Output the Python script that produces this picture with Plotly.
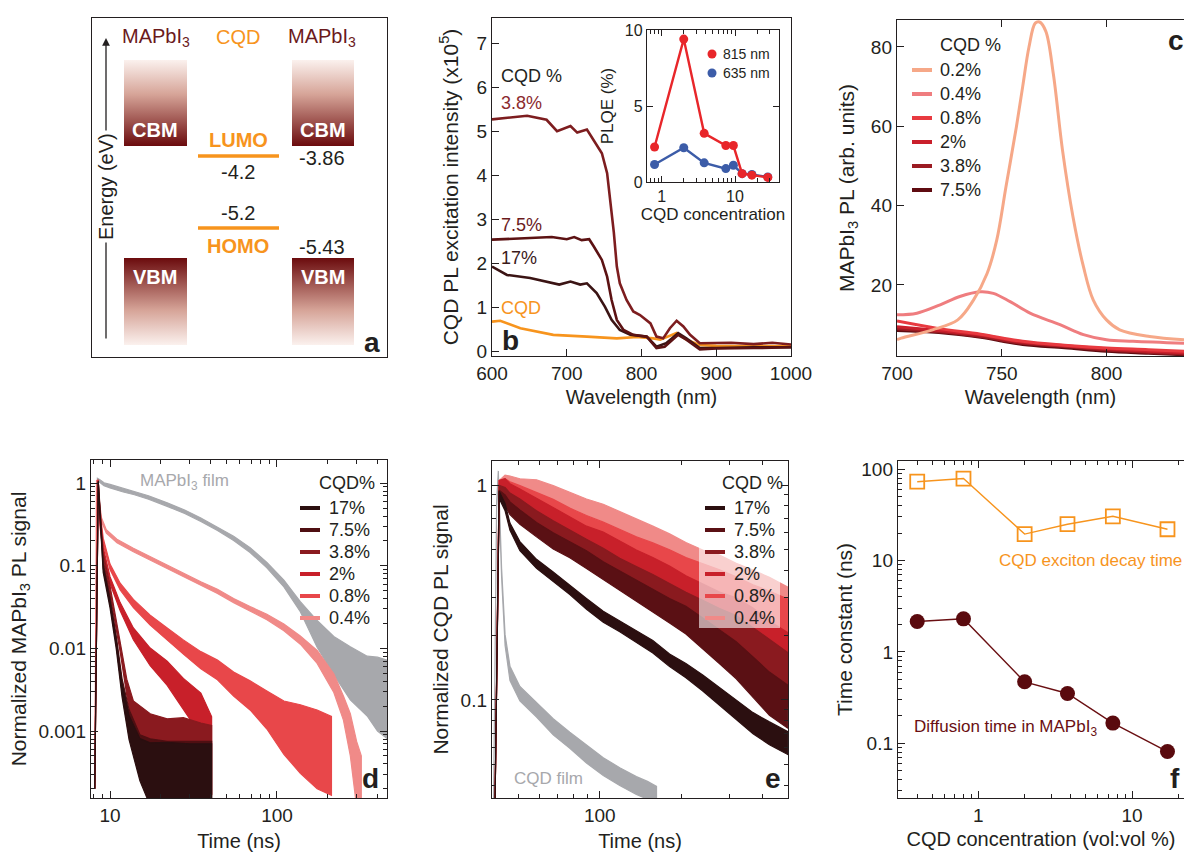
import plotly.graph_objects as go

W, H = 1184, 854
FONT = "Liberation Sans, Arial, Helvetica, sans-serif"
INK = "#231f20"
ORANGE = "#f7941d"
GRAY = "#a7a8ac"


def px(x):
    return x / W


def py(y):
    return 1 - y / H


# ---------------- data ----------------
# (a) energy levels (eV)
A_MAPI_BANDS = ["CBM", "VBM"]
A_MAPI_ENERGY = [-3.86, -5.43]
A_CQD_LEVELS = ["LUMO", "HOMO"]
A_CQD_ENERGY = [-4.2, -5.2]

# (b) CQD PL excitation intensity (x1e5) vs wavelength (nm)
B_WL_38 = [600, 620, 647, 673, 687, 705, 714, 727, 736, 747, 754, 758, 763, 767, 771, 780, 789, 798, 812, 820,
           829, 838, 847, 856, 865, 878, 896, 920, 950, 975, 1000]
B_PLE_38 = [5.27, 5.3, 5.35, 5.26, 5.0, 5.12, 4.97, 5.04, 4.8, 4.5, 4.05, 3.45, 2.7, 1.93, 1.55, 1.17, 0.91, 0.83,
            0.64, 0.34, 0.3, 0.53, 0.7, 0.57, 0.38, 0.19, 0.19, 0.2, 0.17, 0.2, 0.16]
B_WL_75 = [600, 630, 660, 680, 700, 710, 720, 730, 736, 747, 754, 760, 767, 776, 789, 807, 820, 831, 849, 860,
           878, 900, 950, 1000]
B_PLE_75 = [2.54, 2.56, 2.58, 2.6, 2.55, 2.6, 2.53, 2.55, 2.39, 2.08, 1.7, 1.17, 0.72, 0.49, 0.38, 0.34, 0.08,
            0.11, 0.38, 0.27, 0.05, 0.07, 0.08, 0.1]
B_WL_17 = [600, 620, 651, 682, 690, 705, 718, 727, 740, 751, 760, 771, 785, 807, 820, 833, 849, 860, 878, 900,
           950, 1000]
B_PLE_17 = [1.93, 1.74, 1.67, 1.55, 1.52, 1.59, 1.52, 1.55, 1.33, 1.02, 0.72, 0.49, 0.38, 0.34, 0.11, 0.19, 0.42,
            0.3, 0.08, 0.08, 0.1, 0.1]
B_WL_CQD = [600, 611, 638, 682, 727, 767, 794, 816, 825, 847, 860, 878, 900, 950, 1000]
B_PLE_CQD = [0.68, 0.7, 0.53, 0.38, 0.34, 0.3, 0.33, 0.3, 0.27, 0.42, 0.27, 0.15, 0.13, 0.12, 0.12]

# (b inset) PLQE (%) vs CQD concentration
INSET_CONC = [0.8, 2, 3.8, 7.5, 9.5, 12.5, 17, 28]
INSET_PLQE_815 = [2.3, 9.4, 3.2, 2.4, 2.4, 0.55, 0.45, 0.3]
INSET_PLQE_635 = [1.15, 2.25, 1.26, 0.88, 1.1, 0.55, 0.5, 0.33]

# (c) MAPbI3 PL (arb. units) vs wavelength (nm)
C_WL_02 = [700, 702, 717, 729, 736.5, 743, 747.6, 752, 757, 760, 763, 766, 768, 771, 774.6, 779, 784, 789,
           793.7, 800, 806.3, 820.6, 837]
C_PL_02 = [6.2, 6.6, 8.7, 11.2, 16.2, 22.9, 31.3, 44.7, 59.9, 70, 80, 86, 86.3, 84, 73.3, 54, 37.2, 24.6, 16.2,
           11.2, 8.7, 7.0, 6.2]
C_WL_04 = [700, 709.5, 720.6, 730, 739.7, 746, 754, 763.5, 777.8, 789, 800, 812.7, 837]
C_PL_04 = [12.5, 12.9, 15.0, 17.1, 18.3, 17.9, 15.8, 12.9, 10.0, 7.5, 6.2, 5.8, 5.3]
C_WL_LOW = [700, 720, 740, 760, 780, 800, 820, 837]
C_PL_08 = [10.9, 9.0, 7.6, 5.8, 4.8, 4.1, 3.7, 3.3]
C_PL_2 = [9.5, 8.5, 7.4, 5.6, 4.7, 3.9, 3.3, 2.9]
C_PL_38 = [9.0, 8.2, 7.0, 5.3, 4.5, 3.6, 3.0, 2.6]
C_PL_75 = [8.5, 8.0, 6.8, 5.0, 4.2, 3.3, 2.8, 2.4]
C_LABELS = ["0.2%", "0.4%", "0.8%", "2%", "3.8%", "7.5%"]
C_COLORS = ["#f6a888", "#ef7d7f", "#e83a40", "#c91f2b", "#9b1b22", "#5f0c11"]

# (d) normalized MAPbI3 PL vs time (ns): centre value and noise envelope factor
D_T_FILM = [8.1, 8.4, 8.7, 9.2, 10, 12, 14, 17, 22, 28, 35, 44, 55, 69, 87, 110, 138, 174, 219, 275, 347, 400, 460]
D_FILM = [0.0002, 1.1, 1.06, 0.97, 0.92, 0.82, 0.76, 0.67, 0.55, 0.45, 0.36, 0.28, 0.215, 0.155, 0.102, 0.061,
          0.032, 0.015, 0.0082, 0.005, 0.0035, 0.0028, 0.0024]
D_FILM_N = [1, 1.04, 1.04, 1.04, 1.05, 1.05, 1.05, 1.05, 1.05, 1.05, 1.05, 1.05, 1.06, 1.07, 1.08, 1.1, 1.15,
            1.45, 1.7, 2.1, 2.3, 2.8, 3.0]
D_T_04 = [8.1, 8.3, 8.6, 8.9, 9.5, 11, 13.8, 17.4, 22, 27.5, 35, 44, 55, 69, 87, 110, 138, 174, 219, 250, 275, 300, 320]
D_04 = [0.0002, 1.05, 0.6, 0.36, 0.26, 0.2, 0.155, 0.123, 0.097, 0.077, 0.061, 0.049, 0.038, 0.030, 0.024,
        0.018, 0.0126, 0.0079, 0.0038, 0.0019, 0.0009, 0.0003, 0.0002]
D_04_N = [1, 1.04, 1.05, 1.05, 1.05, 1.05, 1.05, 1.05, 1.05, 1.05, 1.05, 1.06, 1.06, 1.07, 1.08, 1.1, 1.12, 1.2,
          1.3, 1.4, 1.8, 2.5, 2.5]
D_T_08 = [8.1, 8.4, 8.7, 9.1, 10, 11.5, 13.8, 17.4, 22, 27.5, 35, 44, 55, 69, 87, 110, 138, 174, 212]
D_08 = [0.0002, 1.05, 0.43, 0.2, 0.097, 0.056, 0.035, 0.022, 0.015, 0.0104, 0.0072, 0.0055, 0.0037, 0.0027,
        0.0018, 0.0011, 0.0008, 0.0006, 0.0005]
D_08_N = [1, 1.05, 1.08, 1.08, 1.08, 1.1, 1.12, 1.15, 1.18, 1.22, 1.27, 1.32, 1.4, 1.5, 1.7, 2.1, 2.6, 3.0, 3.0]
D_T_2 = [8.1, 8.5, 8.7, 9.1, 10, 11.5, 13.8, 17.4, 22, 27.5, 35, 38, 40.6]
D_2 = [0.0002, 1.05, 0.33, 0.155, 0.067, 0.032, 0.015, 0.0079, 0.005, 0.0028, 0.0016, 0.0009, 0.0005]
D_2_N = [1, 1.05, 1.08, 1.08, 1.1, 1.12, 1.18, 1.28, 1.4, 1.55, 1.8, 2.2, 3]
D_T_38 = [8.1, 8.5, 9.1, 10, 11.5, 12.6, 13.8, 17.4, 22, 27.5, 35, 40.6]
D_38 = [0.0002, 1.0, 0.13, 0.051, 0.0104, 0.0034, 0.0016, 0.0009, 0.00064, 0.00058, 0.00048, 0.00045]
D_38_N = [1, 1.05, 1.1, 1.12, 1.15, 1.25, 1.45, 1.8, 2.2, 2.5, 2.6, 2.6]
D_T_75 = [8.1, 8.5, 9.1, 10, 10.9, 11.8, 13, 15.1, 17.4, 22, 30, 40.6]
D_75 = [0.0002, 1.0, 0.1, 0.038, 0.0126, 0.0036, 0.0013, 0.0005, 0.00035, 0.0003, 0.0003, 0.0003]
D_75_N = [1, 1.05, 1.08, 1.1, 1.12, 1.2, 1.4, 1.8, 2.3, 2.5, 2.5, 2.5]
D_T_17 = [8.1, 8.5, 9.1, 10, 10.9, 11.8, 13, 15.1, 17.4, 22, 30, 40.6]
D_17 = [0.0002, 1.0, 0.09, 0.034, 0.011, 0.0031, 0.0011, 0.00045, 0.0003, 0.00028, 0.00027, 0.00027]
D_17_N = [1, 1.05, 1.08, 1.1, 1.12, 1.2, 1.4, 1.8, 2.4, 2.6, 2.6, 2.6]
D_LABELS = ["17%", "7.5%", "3.8%", "2%", "0.8%", "0.4%"]
D_COLORS = ["#2b0f10", "#4f0f12", "#8a1a1f", "#c8202a", "#e8474a", "#f08a88"]

# (e) normalized CQD PL vs time (ns)
E_T_FILM = [40.5, 41.6, 42.2, 43.4, 44.7, 46.6, 50.7, 58.4, 67.3, 77.5, 89.3, 103, 118.5, 136.5, 150, 162]
E_FILM = [0.03, 0.8, 1.13, 0.39, 0.19, 0.133, 0.107, 0.09, 0.075, 0.065, 0.056, 0.049, 0.044, 0.04, 0.038, 0.036]
E_FILM_N = [1, 1.03, 1.03, 1.05, 1.06, 1.08, 1.08, 1.08, 1.09, 1.09, 1.1, 1.1, 1.1, 1.1, 1.1, 1.1]
E_T = [41, 42.5, 44.7, 46.6, 50.7, 58.4, 67.3, 77.5, 89.3, 103, 118.5, 136.5, 157, 181, 208, 240, 277, 319, 368,
       423, 495]
E_17 = [0.03, 0.9, 0.79, 0.64, 0.52, 0.43, 0.375, 0.325, 0.28, 0.244, 0.22, 0.197, 0.177, 0.153, 0.137, 0.12,
        0.104, 0.09, 0.078, 0.07, 0.063]
E_17_N = [1, 1.04, 1.04, 1.04, 1.05, 1.05, 1.05, 1.05, 1.06, 1.06, 1.06, 1.06, 1.07, 1.07, 1.08, 1.09, 1.1, 1.11,
          1.12, 1.13, 1.13]
E_75 = [0.03, 0.9, 0.85, 0.78, 0.71, 0.62, 0.55, 0.5, 0.45, 0.40, 0.36, 0.325, 0.29, 0.26, 0.235, 0.204, 0.177,
        0.153, 0.128, 0.107, 0.093]
E_75_N = [1, 1.05, 1.06, 1.07, 1.08, 1.08, 1.09, 1.09, 1.1, 1.1, 1.11, 1.12, 1.13, 1.14, 1.16, 1.18, 1.2, 1.22,
          1.24, 1.26, 1.26]
E_38 = [0.03, 0.95, 0.91, 0.85, 0.79, 0.69, 0.62, 0.555, 0.5, 0.45, 0.40, 0.36, 0.325, 0.29, 0.26, 0.235, 0.21,
        0.19, 0.165, 0.143, 0.124]
E_38_N = [1, 1.05, 1.07, 1.08, 1.09, 1.1, 1.1, 1.11, 1.12, 1.13, 1.14, 1.16, 1.18, 1.2, 1.22, 1.24, 1.27, 1.3,
          1.32, 1.34, 1.34]
E_2 = [0.03, 1.0, 1.0, 0.94, 0.88, 0.79, 0.71, 0.64, 0.575, 0.535, 0.48, 0.43, 0.39, 0.35, 0.31, 0.28, 0.25,
       0.23, 0.2, 0.17, 0.15]
E_2_N = [1, 1.05, 1.07, 1.08, 1.09, 1.1, 1.1, 1.11, 1.12, 1.13, 1.14, 1.16, 1.18, 1.2, 1.22, 1.24, 1.27, 1.3,
         1.34, 1.37, 1.37]
E_08 = [0.03, 1.0, 1.0, 0.96, 0.92, 0.85, 0.78, 0.71, 0.65, 0.6, 0.55, 0.5, 0.46, 0.42, 0.38, 0.35, 0.32, 0.29,
        0.26, 0.24, 0.22]
E_08_N = [1, 1.05, 1.07, 1.08, 1.08, 1.09, 1.1, 1.1, 1.11, 1.12, 1.13, 1.15, 1.17, 1.19, 1.21, 1.23, 1.26, 1.29,
          1.32, 1.34, 1.34]
E_04 = [0.03, 1.0, 1.05, 1.03, 1.0, 0.98, 0.92, 0.85, 0.79, 0.74, 0.68, 0.62, 0.57, 0.52, 0.47, 0.43, 0.40,
        0.36, 0.33, 0.30, 0.27]
E_04_N = [1, 1.05, 1.06, 1.07, 1.07, 1.08, 1.08, 1.09, 1.09, 1.1, 1.11, 1.12, 1.13, 1.14, 1.15, 1.16, 1.18, 1.2,
          1.22, 1.24, 1.24]
E_LABELS = ["17%", "7.5%", "3.8%", "2%", "0.8%", "0.4%"]
E_COLORS = ["#2b0f10", "#5a1014", "#8a1a1f", "#c8202a", "#e8474a", "#f08a88"]

# (f) time constants (ns) vs CQD concentration (vol:vol %)
F_CONC = [0.4, 0.8, 2, 3.8, 7.5, 17]
F_CQD_DECAY = [73, 79, 19.5, 25, 30.5, 22]
F_DIFFUSION = [2.15, 2.3, 0.47, 0.35, 0.166, 0.081]

# ---------------- figure ----------------
fig = go.Figure()


def band(ax, t, c, n, color, width=1.2):
    hi = [ci * ni for ci, ni in zip(c, n)]
    lo = [ci / ni for ci, ni in zip(c, n)]
    fig.add_trace(go.Scatter(x=list(t) + list(t)[::-1], y=hi + lo[::-1], mode="lines", fill="toself",
                             fillcolor=color, line=dict(color=color, width=width),
                             xaxis="x" + ax, yaxis="y" + ax, hoverinfo="skip"))


# (a) gradient band boxes
LIGHT = "#fbf1ee"
MID = "#d6a498"
DARK = "#6b0b0d"
for (x0, x1) in [(124, 187), (292, 354)]:
    fig.add_trace(go.Scatter(x=[x0, x1, x1, x0, x0], y=[60, 60, 146, 146, 60], mode="lines", fill="toself",
                             line=dict(width=0), xaxis="x", yaxis="y", hoverinfo="skip",
                             fillgradient=dict(type="vertical", start=60, stop=146,
                                               colorscale=[[0, LIGHT], [0.4, MID], [1, DARK]])))
    fig.add_trace(go.Scatter(x=[x0, x1, x1, x0, x0], y=[258, 258, 345, 345, 258], mode="lines", fill="toself",
                             line=dict(width=0), xaxis="x", yaxis="y", hoverinfo="skip",
                             fillgradient=dict(type="vertical", start=258, stop=345,
                                               colorscale=[[0, DARK], [0.6, MID], [1, LIGHT]])))

# (b)
fig.add_trace(go.Scatter(x=B_WL_CQD, y=B_PLE_CQD, mode="lines", line=dict(color=ORANGE, width=2.6),
                         xaxis="x2", yaxis="y2"))
fig.add_trace(go.Scatter(x=B_WL_17, y=B_PLE_17, mode="lines", line=dict(color="#3b1414", width=2.6),
                         xaxis="x2", yaxis="y2"))
fig.add_trace(go.Scatter(x=B_WL_75, y=B_PLE_75, mode="lines", line=dict(color="#5c1213", width=2.6),
                         xaxis="x2", yaxis="y2"))
fig.add_trace(go.Scatter(x=B_WL_38, y=B_PLE_38, mode="lines", line=dict(color="#7d1d1f", width=2.6),
                         xaxis="x2", yaxis="y2"))
# inset
fig.add_trace(go.Scatter(x=INSET_CONC, y=INSET_PLQE_635, mode="lines+markers",
                         line=dict(color="#3c5ca8", width=2.4), marker=dict(size=9, color="#3c5ca8"),
                         xaxis="x3", yaxis="y3"))
fig.add_trace(go.Scatter(x=INSET_CONC, y=INSET_PLQE_815, mode="lines+markers",
                         line=dict(color="#e8262a", width=2.4), marker=dict(size=9, color="#e8262a"),
                         xaxis="x3", yaxis="y3"))

# (c)
for wl, pl, col in [(C_WL_LOW, C_PL_75, C_COLORS[5]), (C_WL_LOW, C_PL_38, C_COLORS[4]),
                    (C_WL_LOW, C_PL_2, C_COLORS[3]), (C_WL_LOW, C_PL_08, C_COLORS[2]),
                    (C_WL_04, C_PL_04, C_COLORS[1]), (C_WL_02, C_PL_02, C_COLORS[0])]:
    fig.add_trace(go.Scatter(x=wl, y=pl, mode="lines", line=dict(color=col, width=3, shape="spline"),
                             xaxis="x4", yaxis="y4"))

# (d)
band("5", D_T_FILM, D_FILM, D_FILM_N, GRAY)
band("5", D_T_04, D_04, D_04_N, D_COLORS[5])
band("5", D_T_08, D_08, D_08_N, D_COLORS[4])
band("5", D_T_2, D_2, D_2_N, D_COLORS[3])
band("5", D_T_38, D_38, D_38_N, D_COLORS[2])
band("5", D_T_75, D_75, D_75_N, D_COLORS[1])
band("5", D_T_17, D_17, D_17_N, D_COLORS[0])

# (e)
band("6", E_T_FILM, E_FILM, E_FILM_N, GRAY)
band("6", E_T, E_04, E_04_N, E_COLORS[5])
band("6", E_T, E_08, E_08_N, E_COLORS[4])
band("6", E_T, E_2, E_2_N, E_COLORS[3])
band("6", E_T, E_38, E_38_N, E_COLORS[2])
band("6", E_T, E_75, E_75_N, E_COLORS[1])
band("6", E_T, E_17, E_17_N, E_COLORS[0])

# (f)
fig.add_trace(go.Scatter(x=F_CONC, y=F_CQD_DECAY, mode="lines+markers", line=dict(color=ORANGE, width=1.4),
                         marker=dict(symbol="square-open", size=14, color=ORANGE, line=dict(width=1.8)),
                         xaxis="x7", yaxis="y7"))
fig.add_trace(go.Scatter(x=F_CONC, y=F_DIFFUSION, mode="lines+markers", line=dict(color="#6a0f12", width=1.4),
                         marker=dict(symbol="circle", size=15, color="#5a0a0e"),
                         xaxis="x7", yaxis="y7"))


# ---------------- axes ----------------
def axis(**kw):
    d = dict(showline=True, linecolor=INK, linewidth=1.4, ticks="inside", ticklen=7, tickwidth=1.2,
             tickcolor=INK, showgrid=False, zeroline=False, automargin=False,
             tickfont=dict(family=FONT, size=19, color=INK))
    d.update(kw)
    return d


def ttl(text, size=20, standoff=None):
    d = dict(text=text, font=dict(family=FONT, size=size, color=INK))
    if standoff is not None:
        d["standoff"] = standoff
    return d


def minor(vals, length=4):
    return dict(ticks="inside", ticklen=length, tickwidth=1, tickcolor=INK, tickvals=vals, showgrid=False)


def decade_minors(lo_exp, hi_exp):
    return [m * 10 ** e for e in range(lo_exp, hi_exp + 1) for m in range(2, 10)]


layout_axes = dict(
    xaxis=axis(domain=[px(92), px(387)], range=[92, 387], mirror=True, ticks="", showticklabels=False,
               anchor="y"),
    yaxis=axis(domain=[py(357), py(18)], range=[357, 18], mirror=True, ticks="", showticklabels=False,
               anchor="x"),
    xaxis2=axis(domain=[px(492), px(791)], range=[600, 1000], tickvals=[600, 700, 800, 900, 1000], mirror=True,
                anchor="y2", title=ttl("Wavelength (nm)", 20, 6)),
    yaxis2=axis(domain=[py(356), py(18)], range=[-0.1, 7.57], tickvals=list(range(8)), mirror=True,
                anchor="x2", title=ttl("CQD PL excitation intensity (x10<sup>5</sup>)", 21, 12)),
    xaxis3=axis(domain=[px(647), px(779)], type="log", range=[-0.2, 1.6], tickvals=[1, 10], ticktext=["1", "10"],
                minor=minor([0.7, 0.8, 0.9, 2, 3, 4, 5, 6, 7, 8, 9, 20, 30]), mirror="allticks", ticklen=6,
                anchor="y3", tickfont=dict(family=FONT, size=16, color=INK),
                title=ttl("CQD concentration", 17, 2)),
    yaxis3=axis(domain=[py(182), py(30)], range=[0, 10], tickvals=[0, 5, 10], mirror="allticks", ticklen=6,
                anchor="x3", tickfont=dict(family=FONT, size=16, color=INK), title=ttl("PLQE (%)", 17, 6)),
    xaxis4=axis(domain=[px(897), 1.0], range=[700, 837], tickvals=[700, 750, 800], mirror="allticks",
                anchor="y4", title=ttl("Wavelength (nm)", 20, 6)),
    yaxis4=axis(domain=[py(356), py(20)], range=[2.1, 86.8], tickvals=[20, 40, 60, 80], mirror=False,
                anchor="x4", title=ttl("MAPbI<sub>3</sub> PL (arb. units)", 21, 10)),
    xaxis5=axis(domain=[px(91), px(387)], type="log", range=[0.886, 2.659], tickvals=[10, 100],
                ticktext=["10", "100"], minor=minor([8, 9] + decade_minors(1, 1) + [200, 300, 400]),
                mirror="allticks", anchor="y5", title=ttl("Time (ns)", 20, 8)),
    yaxis5=axis(domain=[py(798), py(460)], type="log", range=[-3.81, 0.28], tickvals=[0.001, 0.01, 0.1, 1],
                ticktext=["0.001", "0.01", "0.1", "1"], minor=minor(decade_minors(-4, -1)),
                mirror="allticks", anchor="x5", title=ttl("Normalized MAPbI<sub>3</sub> PL signal", 21, 6)),
    xaxis6=axis(domain=[px(492), px(788)], type="log", range=[1.602, 2.695], tickvals=[100], ticktext=["100"],
                minor=minor([50, 60, 70, 80, 90, 200, 300, 400]), mirror="allticks", anchor="y6",
                title=ttl("Time (ns)", 20, 8)),
    yaxis6=axis(domain=[py(798), py(461)], type="log", range=[-1.456, 0.112], tickvals=[0.1, 1],
                ticktext=["0.1", "1"], minor=minor([0.04, 0.05, 0.06, 0.07, 0.08, 0.09] + decade_minors(-1, -1)),
                mirror="allticks", anchor="x6", title=ttl("Normalized CQD PL signal", 21, 6)),
    xaxis7=axis(domain=[px(898), 1.0], type="log", range=[-0.523, 1.338], tickvals=[1, 10], ticktext=["1", "10"],
                minor=minor([0.3, 0.4, 0.5, 0.6, 0.7, 0.8, 0.9] + decade_minors(0, 0) + [20]),
                mirror="allticks", anchor="y7", title=ttl("CQD concentration (vol:vol %)", 20, 6)),
    yaxis7=axis(domain=[py(798), py(461)], type="log", range=[-1.60, 2.09], tickvals=[0.1, 1, 10, 100],
                ticktext=["0.1", "1", "10", "100"], minor=minor([0.03, 0.04, 0.05, 0.06, 0.07, 0.08, 0.09] +
                                                                decade_minors(-1, 1)),
                mirror=False, anchor="x7", title=ttl("Time constant (ns)", 21, 2)),
)

# ---------------- annotations & shapes ----------------
anns = []
shapes = []


def T(x, y, text, size=18, color=INK, xa="center", ya="middle", bold=False, angle=0, bg=None, ref="paper"):
    if ref == "paper":
        xx, yy, xr, yr = px(x), py(y), "paper", "paper"
    else:
        xx, yy, xr, yr = x, y, "x", "y"
    a = dict(x=xx, y=yy, xref=xr, yref=yr, text=("<b>%s</b>" % text) if bold else text, showarrow=False,
             xanchor=xa, yanchor=ya, textangle=angle,
             font=dict(family=FONT, size=size, color=color))
    if bg:
        a["bgcolor"] = bg
        a["borderpad"] = 2
    anns.append(a)


def L(x0, y0, x1, y1, color, width):
    shapes.append(dict(type="line", xref="paper", yref="paper", x0=px(x0), y0=py(y0), x1=px(x1), y1=py(y1),
                       line=dict(color=color, width=width)))


# (a)
MAPI_COL = "#6b1a1c"
T(156, 37, "MAPbI<sub>3</sub>", 20, MAPI_COL, ref="x")
T(238, 37, "CQD", 20, ORANGE, ref="x")
T(322, 37, "MAPbI<sub>3</sub>", 20, MAPI_COL, ref="x")
for xc in (155, 323):
    T(xc, 130, A_MAPI_BANDS[0], 20, "white", bold=True, ref="x")
    T(xc, 277, A_MAPI_BANDS[1], 20, "white", bold=True, ref="x")
T(238, 140, A_CQD_LEVELS[0], 20, ORANGE, bold=True, ref="x")
T(238, 172, "%g" % A_CQD_ENERGY[0], 20, INK, ref="x")
T(238, 213, "%g" % A_CQD_ENERGY[1], 20, INK, ref="x")
T(238, 246, A_CQD_LEVELS[1], 20, ORANGE, bold=True, ref="x")
T(322, 158, "%g" % A_MAPI_ENERGY[0], 20, INK, ref="x")
T(322, 247, "%g" % A_MAPI_ENERGY[1], 20, INK, ref="x")
T(372, 342, "a", 28, INK, bold=True, ref="x")
anns.append(dict(x=106, y=38, xref="x", yref="y", ax=106, ay=340, axref="x", ayref="y", text="",
                 showarrow=True, arrowhead=2, arrowsize=1.2, arrowwidth=1.3, arrowcolor=INK))
T(106, 187, "Energy (eV)", 20, INK, angle=-90, bg="white", ref="x")
for yl in (156, 228):
    shapes.append(dict(type="line", xref="x", yref="y", x0=198, x1=279, y0=yl, y1=yl,
                       line=dict(color=ORANGE, width=3.5)))

# (b)
T(499, 76, "CQD %", 18, INK, xa="left")
T(499, 103, "3.8%", 18, "#8b2a2e", xa="left")
T(499, 225, "7.5%", 18, "#6b1a1c", xa="left")
T(499, 258, "17%", 18, "#3b1a1a", xa="left")
T(499, 308, "CQD", 18, ORANGE, xa="left")
T(500, 340, "b", 28, INK, xa="left", bold=True)
for cy, col, lab in [(54, "#e8262a", "815 nm"), (73, "#3c5ca8", "635 nm")]:
    shapes.append(dict(type="circle", xref="paper", yref="paper", x0=px(707.5), x1=px(716.5), y0=py(cy + 4.5),
                       y1=py(cy - 4.5), fillcolor=col, line=dict(width=0)))
    T(721, cy, lab, 14, INK, xa="left")

# (c) legend
T(938, 45, "CQD %", 18, INK, xa="left")
for i, (lab, col) in enumerate(zip(C_LABELS, C_COLORS)):
    yy = 70 + i * 24
    L(912, yy, 932, yy, col, 4)
    T(938, yy, lab, 18, INK, xa="left")
T(1166, 40, "c", 28, INK, xa="left", bold=True)

# (d) legend
T(138, 482, "MAPbI<sub>3</sub> film", 17, GRAY, xa="left")
T(317, 483, "CQD%", 18, INK, xa="left")
for i, (lab, col) in enumerate(zip(D_LABELS, D_COLORS)):
    yy = 508 + i * 22
    L(300, yy, 320, yy, col, 4)
    T(327, yy, lab, 18, INK, xa="left")
T(370, 778, "d", 28, INK, bold=True)

# (e) legend
shapes.append(dict(type="rect", xref="paper", yref="paper", x0=px(699), x1=px(780), y0=py(628), y1=py(521),
                   fillcolor="rgba(255,255,255,0.6)", line=dict(width=0)))
T(720, 483, "CQD %", 18, INK, xa="left")
for i, (lab, col) in enumerate(zip(E_LABELS, E_COLORS)):
    yy = 508 + i * 22
    L(705, yy, 725, yy, col, 4)
    T(732, yy, lab, 18, INK, xa="left")
T(512, 778, "CQD film", 17, GRAY, xa="left")
T(773, 778, "e", 28, INK, bold=True)

# (f)
T(997, 560, "CQD exciton decay time", 17, ORANGE, xa="left")
T(912, 728, "Diffusion time in MAPbI<sub>3</sub>", 17, "#6a0f12", xa="left")
T(1168, 778, "f", 28, INK, xa="left", bold=True)

fig.update_layout(width=W, height=H, margin=dict(l=0, r=0, t=0, b=0, autoexpand=False), paper_bgcolor="white",
                  plot_bgcolor="rgba(0,0,0,0)", showlegend=False, font=dict(family=FONT, color=INK),
                  annotations=anns, shapes=shapes, **layout_axes)

fig.write_html("out.html", config={"displayModeBar": False},
               post_script="document.body.style.margin='0';document.body.style.overflow='hidden';")
